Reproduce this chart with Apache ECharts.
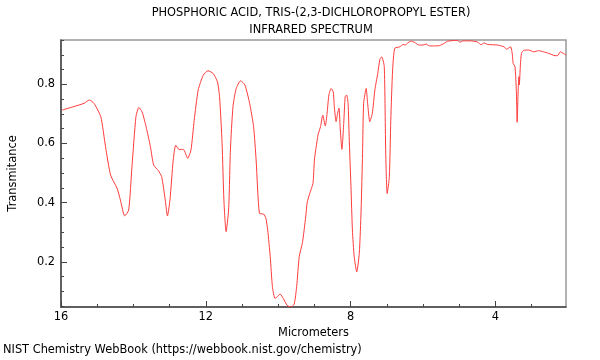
<!DOCTYPE html>
<html>
<head>
<meta charset="utf-8">
<script src="https://cdn.jsdelivr.net/npm/echarts@6/dist/echarts.min.js"></script>
<style>html,body{margin:0;padding:0;background:#fff}#c{width:600px;height:360px}</style>
</head>
<body>
<div id="c"></div>
<script>
const titleLines = ["PHOSPHORIC ACID, TRIS-(2,3-DICHLOROPROPYL ESTER)", "INFRARED SPECTRUM"];
const xLabelTicks = [4, 8, 12, 16];
const xMinorTicks = [3, 5, 6, 7, 9, 10, 11, 13, 14, 15];
const yLabelTicks = [0.2, 0.4, 0.6, 0.8];
const yMinorTicks = [0.05, 0.1, 0.15, 0.25, 0.3, 0.35, 0.45, 0.5, 0.55, 0.65, 0.7, 0.75, 0.85, 0.9, 0.95];

const micrometers = [15.97, 15.64, 15.36, 15.22, 15.09, 14.90, 14.77, 14.63, 14.45, 14.36, 14.24, 14.13, 14.04, 13.93, 13.85, 13.76, 13.65, 13.53, 13.44, 13.31, 13.22, 13.12, 13.06, 12.99, 12.90, 12.83, 12.74, 12.62, 12.50, 12.41, 12.32, 12.21, 12.07, 11.94, 11.80, 11.68, 11.62, 11.55, 11.50, 11.44, 11.37, 11.32, 11.25, 11.16, 11.04, 10.92, 10.79, 10.68, 10.61, 10.52, 10.40, 10.34, 10.29, 10.22, 10.16, 10.09, 10.02, 9.95, 9.86, 9.75, 9.65, 9.56, 9.49, 9.42, 9.33, 9.24, 9.20, 9.13, 9.04, 9.00, 8.95, 8.90, 8.83, 8.77, 8.70, 8.65, 8.60, 8.54, 8.48, 8.45, 8.40, 8.36, 8.32, 8.29, 8.24, 8.19, 8.15, 8.11, 8.07, 8.04, 7.99, 7.95, 7.90, 7.83, 7.76, 7.71, 7.67, 7.64, 7.57, 7.53, 7.47, 7.40, 7.33, 7.25, 7.19, 7.14, 7.07, 7.03, 6.99, 6.93, 6.89, 6.84, 6.78, 6.64, 6.55, 6.49, 6.43, 6.34, 6.23, 6.12, 6.00, 5.91, 5.82, 5.68, 5.55, 5.41, 5.32, 5.04, 4.98, 4.90, 4.68, 4.49, 4.40, 4.31, 4.22, 3.95, 3.76, 3.69, 3.58, 3.53, 3.51, 3.46, 3.42, 3.40, 3.37, 3.35, 3.34, 3.31, 3.28, 3.22, 3.08, 2.94, 2.81, 2.67, 2.53, 2.35, 2.28, 2.21, 2.12, 2.05];
const transmittance = [0.713, 0.725, 0.736, 0.747, 0.736, 0.690, 0.589, 0.493, 0.448, 0.409, 0.355, 0.375, 0.521, 0.690, 0.722, 0.707, 0.657, 0.589, 0.527, 0.508, 0.488, 0.409, 0.355, 0.409, 0.544, 0.594, 0.580, 0.580, 0.550, 0.578, 0.679, 0.781, 0.831, 0.846, 0.837, 0.809, 0.758, 0.600, 0.409, 0.302, 0.375, 0.578, 0.724, 0.786, 0.812, 0.798, 0.736, 0.657, 0.544, 0.364, 0.361, 0.347, 0.307, 0.217, 0.116, 0.076, 0.082, 0.091, 0.076, 0.052, 0.047, 0.056, 0.116, 0.217, 0.265, 0.352, 0.400, 0.431, 0.465, 0.544, 0.589, 0.629, 0.657, 0.696, 0.659, 0.702, 0.764, 0.786, 0.775, 0.724, 0.674, 0.702, 0.719, 0.657, 0.580, 0.668, 0.758, 0.764, 0.736, 0.623, 0.454, 0.307, 0.217, 0.166, 0.228, 0.375, 0.567, 0.736, 0.786, 0.736, 0.674, 0.702, 0.781, 0.837, 0.885, 0.893, 0.860, 0.568, 0.431, 0.488, 0.679, 0.848, 0.922, 0.927, 0.935, 0.933, 0.939, 0.946, 0.942, 0.933, 0.933, 0.936, 0.930, 0.930, 0.931, 0.939, 0.946, 0.949, 0.942, 0.947, 0.947, 0.943, 0.934, 0.940, 0.935, 0.933, 0.927, 0.919, 0.927, 0.899, 0.871, 0.860, 0.775, 0.672, 0.786, 0.826, 0.798, 0.865, 0.905, 0.915, 0.916, 0.910, 0.914, 0.910, 0.905, 0.897, 0.897, 0.910, 0.905, 0.899];

const seriesData = micrometers.map((x, i) => [x, transmittance[i]]);
const FONT = 'DejaVu Sans';
const FS = 11.4;
const X_MIN = 2.05, X_MAX = 16, Y_MIN = 0.047, Y_MAX = 0.95;

const chart = echarts.init(document.getElementById('c'), null, {renderer: 'canvas'});
chart.setOption({
  animation: false,
  backgroundColor: '#fff',
  title: [
    {text: titleLines[0] + '\n' + titleLines[1], left: 311, top: 5, textAlign: 'center', padding: 0,
     textStyle: {fontFamily: FONT, fontSize: FS, fontWeight: 'normal', color: '#000', lineHeight: 17}},
    {text: 'NIST Chemistry WebBook (https://webbook.nist.gov/chemistry)', left: 3, top: 345, padding: 0,
     textStyle: {fontFamily: FONT, fontSize: FS, fontWeight: 'normal', color: '#000'}}
  ],
  grid: {left: 57, right: 34, top: 40, bottom: 53, show: true, borderColor: '#999', borderWidth: 1.5, backgroundColor: 'transparent'},
  xAxis: [
    {type: 'value', inverse: true, min: X_MIN, max: X_MAX, position: 'bottom',
     name: 'Micrometers', nameLocation: 'middle', nameGap: 19,
     nameTextStyle: {fontFamily: FONT, fontSize: FS, color: '#000'},
     axisLine: {show: true, onZero: false, lineStyle: {color: '#444', width: 1.5}},
     axisTick: {show: true, inside: true, length: 6, customValues: xLabelTicks, lineStyle: {color: '#444'}},
     axisLabel: {show: true, customValues: xLabelTicks, fontFamily: FONT, fontSize: FS, color: '#000', margin: 5},
     splitLine: {show: false}},
    {type: 'value', inverse: true, min: X_MIN, max: X_MAX, position: 'bottom',
     axisLine: {show: false},
     axisTick: {show: true, inside: true, length: 3, customValues: xMinorTicks, lineStyle: {color: '#444'}},
     axisLabel: {show: false}, splitLine: {show: false}}
  ],
  yAxis: [
    {type: 'value', min: Y_MIN, max: Y_MAX, position: 'left',
     name: 'Transmitance', nameLocation: 'middle', nameGap: 42,
     nameTextStyle: {fontFamily: FONT, fontSize: FS, color: '#000'},
     axisLine: {show: true, onZero: false, lineStyle: {color: '#444', width: 1.5}},
     axisTick: {show: true, inside: true, length: 6, customValues: yLabelTicks, lineStyle: {color: '#444'}},
     axisLabel: {show: true, customValues: yLabelTicks, fontFamily: FONT, fontSize: FS, color: '#000', margin: 6,
       formatter: v => v.toFixed(1)},
     splitLine: {show: false}},
    {type: 'value', min: Y_MIN, max: Y_MAX, position: 'left',
     axisLine: {show: false},
     axisTick: {show: true, inside: true, length: 3, customValues: yMinorTicks, lineStyle: {color: '#444'}},
     axisLabel: {show: false}, splitLine: {show: false}}
  ],
  series: [{
    type: 'line', xAxisIndex: 0, yAxisIndex: 0, data: seriesData,
    showSymbol: false, symbol: 'none', smooth: 0.2, clip: true,
    lineStyle: {color: '#ff3b3b', width: 1}
  }]
});
</script>
</body>
</html>
